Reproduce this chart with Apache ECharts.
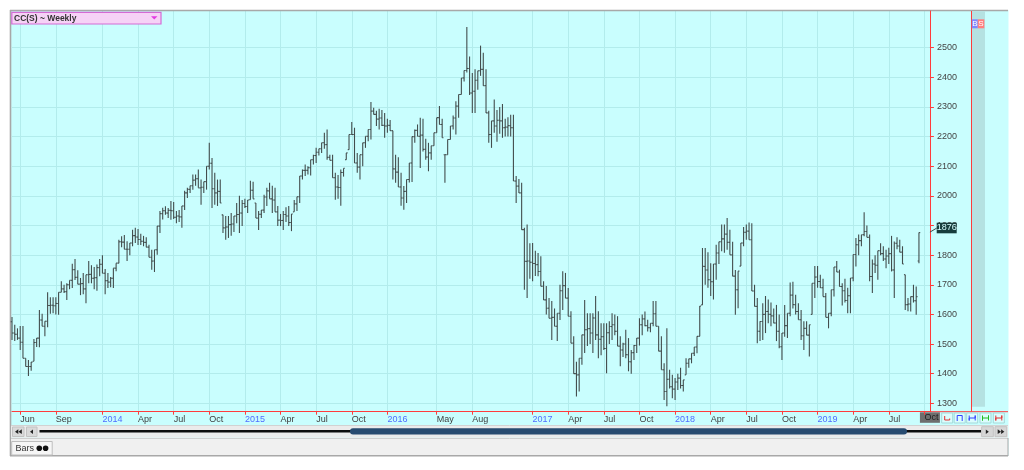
<!DOCTYPE html>
<html><head><meta charset="utf-8">
<script src="https://cdn.jsdelivr.net/npm/echarts@6/dist/echarts.min.js"></script>
<style>html,body{margin:0;padding:0;background:#fff}#c{width:1024px;height:470px}</style>
</head><body><div id="c"></div>
<script>
// ---------- data ----------
const title = 'CC(S) ~ Weekly';
const firstWeekFriday = [2013, 4, 17];   // Friday 17 May 2013 (weekly bars)
const weekSlots = 336;                   // 332 bars + empty slots to the right edge
const labelMonths = ['2013-06','2013-09','2014-01','2014-04','2014-07','2014-10','2015-01','2015-04','2015-07','2015-10',
  '2016-01','2016-05','2016-08','2017-01','2017-04','2017-07','2017-10','2018-01','2018-04','2018-07','2018-10',
  '2019-01','2019-04','2019-07','2019-10'];
const cursorMonth = '2019-10';
const monthNames = ['Jan','Feb','Mar','Apr','May','Jun','Jul','Aug','Sep','Oct','Nov','Dec'];
const yMin = 1300, yMax = 2500, yStep = 100;
const lastPrice = 1876;

const highs = [1591,1565,1553,1561,1561,1452,1446,1439,1517,1520,
1615,1602,1577,1675,1658,1658,1658,1675,1712,1700,
1705,1715,1771,1787,1749,1723,1740,1734,1780,1766,
1760,1768,1787,1800,1753,1740,1726,1756,1773,1852,
1864,1868,1847,1841,1886,1892,1888,1872,1865,1860,
1835,1818,1818,1898,1949,1960,
1965,1959,1983,1979,
1949,1952,1966,2017,2027,2034,2072,2072,2089,2055,
2048,2100,2179,2128,2078,2055,2055,1936,1932,1932,
1942,1932,1976,2000,1986,1990,1986,2051,2048,1976,
1949,1952,2004,2027,2044,2034,2027,1966,1939,1949,
1962,1966,1939,1986,1997,2067,2089,2106,2100,2122,
2139,2162,2159,2179,2213,2224,2139,2139,2078,2070,
2089,2093,2145,2207,2249,2230,2145,2139,2179,2201,
2224,2317,2297,2287,2294,2290,2280,2260,2256,2220,
2139,2130,2078,2033,2055,2111,2200,2224,2241,2264,
2260,2193,2179,2169,2213,2264,2303,2260,2139,2190,
2236,2271,2319,2342,2398,2423,2570,2470,2415,2427,
2422,2507,2483,2427,2287,2253,2325,2290,2300,2310,
2260,2265,2274,2274,2067,2057,2044,1892,1903,1840,
1841,1815,1807,1796,1712,1696,1655,1645,1620,1604,
1700,1746,1740,1689,1611,1526,1440,1452,1531,1649,
1604,1604,1604,1662,1611,1570,1570,1570,1577,1604,
1600,1594,1526,1504,1548,1520,1480,1497,1520,1587,
1600,1610,1582,1570,1645,1645,1560,1526,1435,1553,
1413,1396,1385,1400,1420,1379,1452,1450,1469,1490,
1526,1628,1824,1824,1810,1773,1770,1835,1845,1903,
1903,1925,1886,1845,1750,1746,1841,1895,1903,1910,
1908,1700,1655,1577,1638,1662,1650,1640,1620,1632,
1600,1537,1632,1604,1708,1710,1666,1638,1615,1577,
1577,1565,1705,1763,1763,1734,1720,1672,1604,1683,
1760,1780,1751,1705,1720,1690,1723,1802,1858,1870,
1869,1945,1900,1870,1785,1800,1815,1840,1830,1818,
1825,1865,1846,1860,1852,1830,1734,1655,1660,1700,
1694,1876];

const lows = [1514,1510,1514,1480,1452,1424,1392,1410,1442,1490,
1489,1560,1526,1557,1602,1604,1600,1599,1675,1672,
1649,1685,1689,1716,1702,1665,1668,1638,1705,1705,
1685,1680,1729,1739,1668,1689,1692,1689,1746,1773,
1827,1820,1780,1800,1830,1841,1834,1834,1830,1827,
1793,1751,1743,1801,1875,1920,
1936,1925,1919,1922,
1908,1912,1892,1952,1993,2010,2021,2034,2027,1970,
2010,2021,2089,1959,1970,1966,1976,1875,1852,1858,
1865,1878,1908,1875,1898,1959,1942,1987,1990,1925,
1885,1925,1942,1966,1990,1942,1946,1898,1898,1885,
1912,1898,1881,1946,1949,1976,2055,2067,2072,2069,
2106,2111,2136,2145,2159,2122,2120,2061,1987,1990,
1967,2065,2122,2156,2207,2111,2078,2055,2100,2162,
2184,2190,2275,2236,2224,2236,2196,2213,2220,2055,
2044,2030,1967,1953,1976,2045,2047,2179,2201,2094,
2150,2122,2083,2122,2169,2213,2241,2196,2044,2139,
2190,2224,2207,2264,2342,2386,2416,2340,2280,2280,
2358,2405,2372,2280,2179,2162,2213,2183,2210,2196,
2200,2200,2200,2050,1976,2010,1886,1683,1655,1720,
1712,1730,1729,1695,1649,1600,1587,1514,1560,1510,
1581,1615,1655,1594,1503,1400,1323,1340,1430,1470,
1493,1500,1470,1514,1452,1462,1480,1401,1500,1514,
1530,1493,1425,1456,1452,1408,1400,1446,1470,1495,
1530,1560,1542,1540,1560,1560,1476,1413,1311,1290,
1350,1317,1311,1345,1350,1340,1396,1420,1435,1460,
1469,1526,1632,1700,1690,1662,1650,1717,1770,1813,
1808,1818,1801,1729,1599,1621,1763,1830,1852,1852,
1679,1627,1503,1510,1514,1537,1570,1560,1570,1510,
1486,1446,1525,1520,1594,1620,1600,1582,1514,1480,
1530,1458,1600,1655,1690,1689,1660,1590,1553,1594,
1660,1743,1694,1630,1640,1604,1604,1712,1762,1800,
1830,1864,1860,1712,1672,1740,1717,1800,1780,1756,
1770,1745,1655,1820,1810,1770,1615,1611,1610,1640,
1599,1773];

const opens = [1575,1537,1533,1520,1506,1452,1424,1424,1442,1505,
1520,1581,1560,1577,1630,1631,1629,1637,1675,1686,
1677,1700,1715,1751,1725,1702,1704,1686,1734,1735,
1722,1724,1758,1769,1739,1714,1709,1722,1756,1773,
1845,1844,1820,1820,1841,1866,1861,1853,1847,1843,
1827,1793,1780,1818,1898,1940,
1950,1942,1951,1950,
1928,1932,1929,1966,2010,2022,2034,2053,2058,2027,
2029,2048,2100,2110,2024,2010,2015,1936,1892,1895,
1903,1905,1932,1937,1942,1974,1964,1987,2019,1976,
1925,1938,1952,1996,2017,1990,1986,1946,1918,1917,
1937,1932,1910,1946,1973,1997,2067,2086,2086,2095,
2122,2136,2147,2159,2179,2173,2130,2120,2061,2030,
2028,2079,2122,2156,2207,2207,2111,2097,2139,2179,
2201,2224,2286,2275,2259,2263,2238,2236,2238,2220,
2091,2080,2030,1993,2015,2055,2111,2200,2221,2201,
2205,2157,2131,2145,2169,2213,2264,2241,2139,2139,
2190,2236,2263,2303,2342,2398,2423,2430,2347,2353,
2390,2422,2427,2372,2280,2207,2253,2236,2255,2253,
2230,2232,2237,2230,2050,2033,2010,1886,1779,1780,
1776,1772,1768,1745,1695,1649,1621,1587,1590,1560,
1604,1680,1697,1655,1594,1503,1400,1396,1452,1531,
1548,1552,1537,1588,1531,1516,1525,1485,1538,1559,
1565,1543,1493,1480,1500,1464,1440,1471,1495,1520,
1565,1585,1562,1555,1570,1602,1560,1476,1413,1340,
1381,1356,1348,1372,1385,1360,1396,1435,1450,1469,
1490,1526,1632,1762,1750,1717,1710,1770,1807,1845,
1855,1871,1843,1801,1729,1683,1763,1841,1877,1881,
1852,1679,1627,1543,1576,1600,1610,1600,1595,1571,
1543,1491,1537,1562,1604,1665,1633,1610,1582,1528,
1553,1530,1600,1705,1726,1711,1690,1660,1590,1604,
1683,1760,1743,1694,1680,1647,1663,1723,1802,1835,
1849,1869,1880,1860,1728,1770,1766,1815,1805,1787,
1797,1805,1750,1840,1831,1810,1734,1633,1635,1660,
1646,1780];

const closes = [1537,1533,1520,1506,1452,1424,1424,1439,1505,1520,
1581,1560,1577,1630,1631,1629,1637,1675,1686,1677,
1700,1715,1751,1725,1702,1704,1686,1734,1735,1722,
1724,1758,1769,1739,1714,1709,1722,1756,1773,1845,
1844,1820,1820,1841,1866,1861,1853,1847,1843,1827,
1793,1780,1818,1898,1940,1950,
1942,1951,1950,1928,
1932,1929,1966,2010,2022,2034,2053,2058,2027,2029,
2048,2100,2110,2024,2010,2015,1976,1892,1895,1903,
1905,1932,1937,1942,1974,1964,1986,2019,1990,1925,
1938,1952,1996,2017,1990,1986,1946,1918,1917,1937,
1932,1910,1939,1973,1997,2067,2086,2086,2095,2122,
2136,2147,2159,2179,2173,2130,2120,2061,2030,2028,
2079,2093,2145,2207,2207,2111,2097,2139,2179,2201,
2224,2286,2275,2259,2263,2238,2236,2238,2220,2091,
2080,2030,1993,2015,2055,2111,2200,2221,2201,2205,
2157,2131,2145,2169,2213,2264,2241,2196,2139,2190,
2236,2263,2303,2342,2398,2423,2430,2347,2353,2390,
2422,2427,2372,2280,2207,2253,2236,2255,2253,2230,
2232,2237,2230,2050,2033,2010,1886,1779,1780,1776,
1772,1768,1745,1695,1649,1621,1587,1590,1560,1604,
1680,1697,1655,1594,1503,1400,1396,1452,1531,1548,
1552,1537,1588,1531,1516,1525,1485,1538,1559,1565,
1543,1493,1480,1500,1464,1440,1471,1495,1520,1565,
1585,1562,1555,1570,1602,1560,1476,1413,1340,1381,
1356,1348,1372,1385,1360,1379,1435,1450,1469,1490,
1526,1628,1762,1750,1717,1710,1770,1807,1845,1855,
1871,1843,1801,1729,1683,1746,1841,1877,1881,1852,
1679,1627,1543,1576,1600,1610,1600,1595,1571,1543,
1491,1537,1562,1604,1665,1633,1610,1582,1528,1553,
1530,1565,1705,1726,1711,1690,1660,1590,1604,1683,
1760,1743,1694,1680,1647,1663,1723,1802,1835,1849,
1869,1880,1860,1728,1770,1766,1815,1805,1787,1797,
1805,1750,1840,1831,1810,1770,1633,1635,1660,1646,
1660,1876];

// ---------- build ----------
const categories = [];
const t0 = Date.UTC(firstWeekFriday[0], firstWeekFriday[1], firstWeekFriday[2]);
for (let i = 0; i < weekSlots; i++) categories.push(new Date(t0 + i * 7 * 86400000).toISOString().slice(0, 10));
const tickIdx = new Set();
const seen = new Set();
categories.forEach((c, i) => { const ym = c.slice(0, 7); if (labelMonths.includes(ym) && !seen.has(ym)) { seen.add(ym); tickIdx.add(i); } });
const cursorIdx = categories.findIndex(c => c.slice(0, 7) === cursorMonth);
const bars = highs.map((h, i) => [i, opens[i], h, lows[i], closes[i]]);

const FONT = 'Liberation Sans';
const gridColor = '#b2ecec';
const red = '#ff3c3c';
const barColor = '#434d4d';
const GL = 12, GW = 917.9;

const chart = echarts.init(document.getElementById('c'), null, { renderer: 'canvas' });
const option = {
  animation: false,
  backgroundColor: '#c9fefe',
  grid: [
    { left: GL, width: GW, top: 11, height: 400.7 },
    { left: GL, width: GW, top: 47.7, height: 355.6 }
  ],
  xAxis: [
    { type: 'category', gridIndex: 0, data: categories, boundaryGap: false,
      axisLine: { show: true, lineStyle: { color: red, width: 1 } },
      axisTick: { show: true, length: 3, interval: (i) => tickIdx.has(i), lineStyle: { color: red } },
      splitLine: { show: true, interval: (i) => tickIdx.has(i), lineStyle: { color: gridColor, width: 1 } },
      axisLabel: { show: true, interval: (i) => tickIdx.has(i) && i !== cursorIdx, align: 'left', margin: 3,
        formatter: (v, i) => { if (!tickIdx.has(i) || i === cursorIdx) return ''; const m = +v.slice(5, 7);
          return m === 1 ? '{y|' + v.slice(0, 4) + '}' : '{m|' + monthNames[m - 1] + '}'; },
        rich: { y: { color: '#4f6cff', fontSize: 9, fontFamily: FONT }, m: { color: '#404040', fontSize: 9, fontFamily: FONT } } } },
    { type: 'category', gridIndex: 1, data: categories, boundaryGap: false, show: false }
  ],
  yAxis: [
    { type: 'value', gridIndex: 0, position: 'right', min: 0, max: 1,
      axisLine: { show: true, lineStyle: { color: red, width: 1 } }, axisTick: { show: false }, axisLabel: { show: false }, splitLine: { show: false } },
    { type: 'value', gridIndex: 1, position: 'right', min: yMin, max: yMax, interval: yStep,
      axisLine: { show: false }, axisTick: { show: true, length: 4, lineStyle: { color: red } },
      axisLabel: { show: true, margin: 7, color: '#444', fontSize: 9, fontFamily: FONT, padding: [0, 0, 5, 0], formatter: (v) => String(v) },
      splitLine: { show: true, lineStyle: { color: gridColor, width: 1 } } }
  ],
  series: [{
    type: 'custom', xAxisIndex: 1, yAxisIndex: 1, clip: false,
    encode: { x: 0, y: [1, 2, 3, 4] },
    data: bars,
    renderItem: (params, api) => {
      const i = api.value(0);
      const pH = api.coord([i, api.value(2)]), pL = api.coord([i, api.value(3)]);
      const pO = api.coord([i, api.value(1)]), pC = api.coord([i, api.value(4)]);
      const x = pH[0], st = { stroke: barColor, lineWidth: 1.1 };
      return { type: 'group', children: [
        { type: 'line', shape: { x1: x, y1: pH[1], x2: x, y2: pL[1] }, style: st },
        { type: 'line', shape: { x1: x - 1.3, y1: pO[1], x2: x, y2: pO[1] }, style: st },
        { type: 'line', shape: { x1: x, y1: pC[1], x2: x + 1.3, y2: pC[1] }, style: st }
      ] };
    }
  }]
};
chart.setOption(option);

const py = chart.convertToPixel({ yAxisIndex: 1 }, lastPrice);
const lastX = chart.convertToPixel({ xAxisIndex: 1 }, highs.length - 1);
const cursorX = chart.convertToPixel({ xAxisIndex: 0 }, cursorIdx);

function tri(points, fill) { return { type: 'polygon', shape: { points }, style: { fill } }; }
function bowtie(x, y, c) { return { type: 'polyline', shape: { points: [[x + 2.5, y + 2.5], [x + 2.5, y + 7.5], [x + 2.5, y + 5], [x + 8.5, y + 5], [x + 8.5, y + 2.5], [x + 8.5, y + 7.5]] }, style: { stroke: c, lineWidth: 1, fill: null } }; }
const btnX = [941.7, 954.2, 966.7, 980, 993.3];
const g = [
  // outside white margins
  { type: 'rect', shape: { x: 0, y: 0, width: 1024, height: 10 }, style: { fill: '#fff' } },
  { type: 'rect', shape: { x: 0, y: 0, width: 10, height: 470 }, style: { fill: '#fff' } },
  { type: 'rect', shape: { x: 1008.5, y: 0, width: 16, height: 470 }, style: { fill: '#fff' } },
  { type: 'rect', shape: { x: 0, y: 456, width: 1024, height: 14 }, style: { fill: '#fff' } },
  // frame
  { type: 'line', shape: { x1: 10, y1: 10.5, x2: 1008, y2: 10.5 }, style: { stroke: '#a8a8a8', lineWidth: 1.6 } },
  { type: 'line', shape: { x1: 10.5, y1: 10, x2: 10.5, y2: 456 }, style: { stroke: '#a8a8a8', lineWidth: 1.6 } },
  // right side strip
  { type: 'rect', shape: { x: 972, y: 11.3, width: 13, height: 395.5 }, style: { fill: '#b5e2e2' } },
  { type: 'line', shape: { x1: 971.5, y1: 11, x2: 971.5, y2: 411.7 }, style: { stroke: red, lineWidth: 1 } },
  { type: 'rect', shape: { x: 971.8, y: 19.3, width: 6, height: 9 }, style: { fill: '#8088ff' } },
  { type: 'text', x: 974.8, y: 24, style: { text: 'B', fill: '#fff', font: '8px ' + FONT, align: 'center', verticalAlign: 'middle' } },
  { type: 'rect', shape: { x: 977.8, y: 19.3, width: 6.5, height: 9 }, style: { fill: '#ff8080' } },
  { type: 'text', x: 981, y: 24, style: { text: 'S', fill: '#fff', font: '8px ' + FONT, align: 'center', verticalAlign: 'middle' } },
  // x axis line extension
  { type: 'line', shape: { x1: 930, y1: 411.7, x2: 1008, y2: 411.7 }, style: { stroke: red, lineWidth: 1 } },
  // cursor month box
  { type: 'rect', shape: { x: cursorX - 4.5, y: 412.3, width: 20, height: 10.5 }, style: { fill: '#6e6e6e' } },
  { type: 'text', x: cursorX, y: 418, style: { text: monthNames[+cursorMonth.slice(5) - 1], fill: '#1e1e1e', font: '9px ' + FONT, align: 'left', verticalAlign: 'middle' } },
  // small buttons in label row
  ...btnX.map(x => ({ type: 'rect', shape: { x, y: 413, width: 11, height: 10 }, style: { fill: '#dcfdfd', stroke: '#a3d9d9', lineWidth: 1 } })),
  { type: 'polyline', shape: { points: [[btnX[0] + 3, 416], [btnX[0] + 3, 420], [btnX[0] + 8, 420], [btnX[0] + 8, 418.5]] }, style: { stroke: '#e03030', lineWidth: 1, fill: null } },
  { type: 'polyline', shape: { points: [[btnX[1] + 3, 421], [btnX[1] + 3, 415.5], [btnX[1] + 8, 415.5], [btnX[1] + 8, 421]] }, style: { stroke: '#3040ff', lineWidth: 1, fill: null } },
  bowtie(btnX[2], 413, '#3040ff'), bowtie(btnX[3], 413, '#22bb22'), bowtie(btnX[4], 413, '#e03030'),
  // scroll row
  { type: 'rect', shape: { x: 11, y: 425.3, width: 997, height: 12.4 }, style: { fill: '#ebebeb' } },
  { type: 'line', shape: { x1: 11, y1: 425.5, x2: 1008, y2: 425.5 }, style: { stroke: '#d2d2d2', lineWidth: 1 } },
  { type: 'rect', shape: { x: 12.5, y: 427, width: 11.5, height: 9.5 }, style: { fill: '#d9d9d9', stroke: '#c2c2c2', lineWidth: 1 } },
  tri([[15, 431.7], [18.3, 429.3], [18.3, 434.1]], '#222'), tri([[18.5, 431.7], [21.8, 429.3], [21.8, 434.1]], '#222'),
  { type: 'rect', shape: { x: 26.5, y: 427, width: 10.5, height: 9.5 }, style: { fill: '#d9d9d9', stroke: '#c2c2c2', lineWidth: 1 } },
  tri([[30, 431.7], [33, 429.5], [33, 433.9]], '#222'),
  { type: 'line', shape: { x1: 39.5, y1: 431.3, x2: 981, y2: 431.3 }, style: { stroke: '#0c0c0c', lineWidth: 2.4 } },
  { type: 'rect', shape: { x: 350, y: 428.2, width: 557, height: 6.3, r: 3 }, style: { fill: '#274b70' } },
  { type: 'rect', shape: { x: 981.7, y: 426.7, width: 11.6, height: 10 }, style: { fill: '#d6d6d6', stroke: '#c2c2c2', lineWidth: 1 } },
  tri([[988.8, 431.7], [985.8, 429.5], [985.8, 433.9]], '#222'),
  { type: 'rect', shape: { x: 995, y: 426.7, width: 11.7, height: 10 }, style: { fill: '#d6d6d6', stroke: '#c2c2c2', lineWidth: 1 } },
  tri([[1001, 431.7], [997.7, 429.3], [997.7, 434.1]], '#222'), tri([[1004.4, 431.7], [1001.1, 429.3], [1001.1, 434.1]], '#222'),
  // bottom row
  { type: 'rect', shape: { x: 11, y: 437.7, width: 997, height: 18 }, style: { fill: '#f0f0f0' } },
  { type: 'line', shape: { x1: 11, y1: 438.5, x2: 1008, y2: 438.5 }, style: { stroke: '#cfcfcf', lineWidth: 1 } },
  { type: 'line', shape: { x1: 10, y1: 455.7, x2: 1008, y2: 455.7 }, style: { stroke: '#a8a8a8', lineWidth: 1.4 } },
  { type: 'line', shape: { x1: 1008, y1: 438, x2: 1008, y2: 456 }, style: { stroke: '#a8a8a8', lineWidth: 1 } },
  { type: 'rect', shape: { x: 11.7, y: 441.5, width: 40.5, height: 13.5 }, style: { fill: '#f6f6f6', stroke: '#bdbdbd', lineWidth: 1 } },
  { type: 'text', x: 15.5, y: 448.5, style: { text: 'Bars', fill: '#333', font: '9px ' + FONT, align: 'left', verticalAlign: 'middle' } },
  { type: 'circle', shape: { cx: 39.3, cy: 448.3, r: 2.8 }, style: { fill: '#111' } },
  { type: 'circle', shape: { cx: 45.6, cy: 448.3, r: 2.8 }, style: { fill: '#111' } },
  // legend / title box
  { type: 'rect', shape: { x: 11.8, y: 12.3, width: 149.2, height: 11.7 }, style: { fill: '#f6d2f6', stroke: '#d46ad4', lineWidth: 1.2 } },
  { type: 'text', x: 14, y: 18.4, style: { text: title, fill: '#333', font: 'bold 8.5px ' + FONT, align: 'left', verticalAlign: 'middle' } },
  tri([[151, 16.3], [157.5, 16.3], [154.25, 19.6]], '#e23be2'),
  // last price marker
  { type: 'line', z: 100, shape: { x1: lastX + 11, y1: py - 0.5, x2: 936.7, y2: py - 4.5 }, style: { stroke: '#3d4747', lineWidth: 1 } },
  { type: 'rect', z: 100, shape: { x: 936.7, y: py - 9.9, width: 20, height: 10.6 }, style: { fill: '#173d3d' } },
  { type: 'text', z: 101, x: 946.7, y: py - 4.6, style: { text: String(lastPrice), fill: '#d8ffff', font: '9px ' + FONT, align: 'center', verticalAlign: 'middle' } }
];
chart.setOption({ graphic: { elements: g } });
</script>
</body></html>
